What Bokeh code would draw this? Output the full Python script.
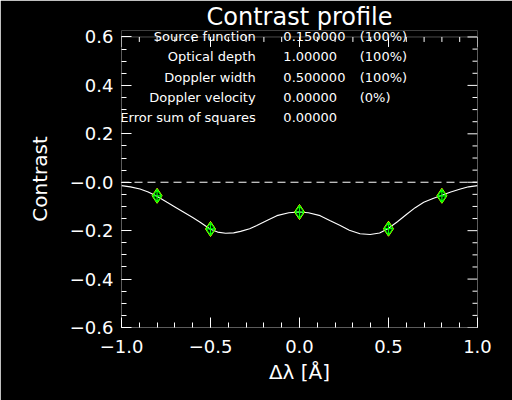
import numpy as np
from bokeh.plotting import figure
from bokeh.models import FixedTicker, Label, Range1d, Title, BoxAnnotation
from bokeh.embed import file_html
from bokeh.resources import INLINE

# ---- data ----
curve_x = [-1.0, -0.95, -0.896, -0.85, -0.806, -0.744, -0.70, -0.65, -0.60, -0.556, -0.503,
           -0.46, -0.415, -0.37, -0.331, -0.28, -0.24, -0.18, -0.127, -0.06, -0.006,
           0.05, 0.116, 0.17, 0.229, 0.28, 0.34, 0.397, 0.45, 0.494, 0.55, 0.604,
           0.65, 0.698, 0.75, 0.792, 0.85, 0.904, 0.95, 1.0]
curve_y = [-0.014, -0.019, -0.028, -0.040, -0.056, -0.083, -0.102, -0.124, -0.146, -0.166, -0.193,
           -0.206, -0.211, -0.209, -0.203, -0.192, -0.179, -0.157, -0.138, -0.126, -0.123,
           -0.126, -0.138, -0.158, -0.179, -0.198, -0.213, -0.216, -0.210, -0.193, -0.163, -0.131,
           -0.105, -0.083, -0.067, -0.056, -0.040, -0.028, -0.019, -0.014]
obs_x = [-0.8, -0.5, 0.0, 0.5, 0.8]
obs_y = [-0.056, -0.193, -0.123, -0.192, -0.056]

zero_level = [0.0, 0.0]
x_limits = [-1.0, 1.0]
y_limits = [-0.6, 0.6]

x_ticks = [-1.0, -0.5, 0.0, 0.5, 1.0]
x_tick_labels = ["\u22121.0", "\u22120.5", "0.0", "0.5", "1.0"]
y_ticks = [-0.6, -0.4, -0.2, 0.0, 0.2, 0.4, 0.6]
y_tick_labels = ["\u22120.6", "\u22120.4", "\u22120.2", "\u22120.0", "0.2", "0.4", "0.6"]

param_names = ["Source function", "Optical depth", "Doppler width",
               "Doppler velocity", "Error sum of squares"]
param_values = ["0.150000", "1.00000", "0.500000", "0.00000", "0.00000"]
param_percent = ["(100%)", "(100%)", "(100%)", "(0%)", ""]

FONT = "DejaVu Sans"
W, H = 512, 400
FRAME_L, FRAME_R, FRAME_T, FRAME_B = 121, 477, 29, 327   # pixel frame
BOX_T = 35.5                                             # pixel of y = 0.6
py_per_unit = (FRAME_B - BOX_T) / (y_limits[1] - y_limits[0])
px_per_unit = (FRAME_R - FRAME_L) / (x_limits[1] - x_limits[0])
y_top = y_limits[1] + (BOX_T - FRAME_T) / py_per_unit

p = figure(width=W, height=H, output_backend="svg", toolbar_location=None,
           x_range=Range1d(*x_limits), y_range=Range1d(y_limits[0], y_top),
           min_border_left=FRAME_L, min_border_right=W - FRAME_R,
           min_border_top=FRAME_T, min_border_bottom=H - FRAME_B)
p.background_fill_color = "black"
p.border_fill_color = "black"
p.outline_line_color = None
p.grid.visible = False

p.title = Title(text="Contrast profile", align="center", text_color="white",
                text_font=FONT, text_font_size="24px", text_font_style="normal",
                offset=0, standoff=0)

xmin = np.round(np.arange(-1.0, 1.0001, 0.1), 6)
ymin = np.round(np.arange(-0.6, 0.6001, 0.05), 6)


def style_axis(ax, ticks, minor, labels):
    ax.ticker = FixedTicker(ticks=ticks, minor_ticks=list(minor))
    ax.axis_line_color = None
    ax.major_tick_line_color = "white"
    ax.minor_tick_line_color = "white"
    ax.major_tick_in = 10
    ax.major_tick_out = 0
    ax.minor_tick_in = 5
    ax.minor_tick_out = 0
    ax.major_label_overrides = {t: l for t, l in zip(ticks, labels)}
    ax.major_label_text_color = "white"
    ax.major_label_text_font = FONT
    ax.major_label_text_font_size = "18px"
    ax.axis_label_text_color = "white"
    ax.axis_label_text_font = FONT
    ax.axis_label_text_font_size = "20px"
    ax.axis_label_text_font_style = "normal"


style_axis(p.xaxis[0], x_ticks, xmin, x_tick_labels)
p.xaxis[0].axis_label = "\u0394\u03bb [\u00c5]"
p.xaxis[0].major_label_standoff = 12
p.xaxis[0].axis_label_standoff = 4
style_axis(p.yaxis[0], y_ticks, ymin, y_tick_labels)
p.yaxis[0].axis_label = "Contrast"
p.yaxis[0].major_label_standoff = 8
p.yaxis[0].axis_label_standoff = 15

# plot box (frame extends above it to hold the parameter block)
p.add_layout(BoxAnnotation(left=x_limits[0], right=x_limits[1], bottom=y_limits[0],
                           top=y_limits[1], fill_alpha=0, line_color="white",
                           line_width=1))

# ticks on the right and top edges of the box
maj_x = 10 / px_per_unit
min_x = 5 / px_per_unit
maj_y = 10 / py_per_unit
min_y = 5 / py_per_unit
ry_major = [t for t in y_ticks]
ry_minor = [t for t in ymin if t not in y_ticks]
p.segment(x0=[x_limits[1]] * len(ry_major), y0=ry_major,
          x1=[x_limits[1] - maj_x] * len(ry_major), y1=ry_major, line_color="white")
p.segment(x0=[x_limits[1]] * len(ry_minor), y0=ry_minor,
          x1=[x_limits[1] - min_x] * len(ry_minor), y1=ry_minor, line_color="white")
tx_major = [t for t in x_ticks]
tx_minor = [t for t in xmin if t not in x_ticks]
p.segment(x0=tx_major, y0=[y_limits[1]] * len(tx_major),
          x1=tx_major, y1=[y_limits[1] - maj_y] * len(tx_major), line_color="white")
p.segment(x0=tx_minor, y0=[y_limits[1]] * len(tx_minor),
          x1=tx_minor, y1=[y_limits[1] - min_y] * len(tx_minor), line_color="white")

# zero line
p.line(x_limits, zero_level, line_color="white", line_dash="8 5", line_width=1)
# model curve
p.line(curve_x, curve_y, line_color="white", line_width=1.1)
# observations
p.scatter(obs_x, obs_y, marker="diamond", size=15, fill_color=None,
          line_color="yellow", line_width=1)
p.scatter(obs_x, obs_y, marker="diamond_cross", size=13, fill_color=None,
          line_color="#00ff00", line_width=1.2)

# parameter text block
row_y = [0.602, 0.520, 0.433, 0.351, 0.269]
col_x = [-0.2463, -0.0906, 0.3386]
for name, val, pct, yy in zip(param_names, param_values, param_percent, row_y):
    for txt, xx, al in ((name, col_x[0], "right"), (val, col_x[1], "left"),
                        (pct, col_x[2], "left")):
        if not txt:
            continue
        p.add_layout(Label(x=xx, y=yy, text=txt, text_align=al, text_baseline="middle",
                           text_color="white", text_font=FONT, text_font_size="13px"))

open("out.html", "w").write(file_html(p, INLINE))
